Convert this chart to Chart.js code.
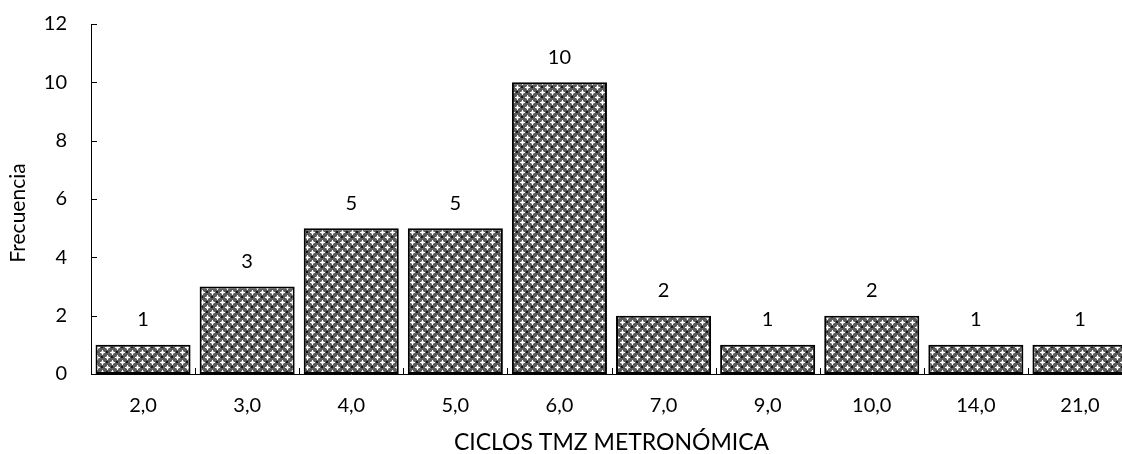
<!DOCTYPE html>
<html>
<head>
<meta charset="utf-8">
<title>Frecuencia por ciclos TMZ metronómica</title>
<script src="https://cdn.jsdelivr.net/npm/chart.js@4.4.1/dist/chart.umd.min.js"></script>
<style>
  html, body { margin: 0; padding: 0; background: #ffffff; overflow: hidden; }
  #wrap { width: 1135px; height: 454px; }
</style>
</head>
<body>
<div id="wrap"><canvas id="chart" width="1135" height="454"></canvas></div>
<script>
// Category labels (number of cycles) and their frequencies
const ciclos = ['2,0', '3,0', '4,0', '5,0', '6,0', '7,0', '9,0', '10,0', '14,0', '21,0'];
const frecuencias = [1, 3, 5, 5, 10, 2, 1, 2, 1, 1];
const yTicks = [0, 2, 4, 6, 8, 10, 12];
const yTitle = 'Frecuencia';

const FONT = 'Lato, "Open Sans", sans-serif';

// Hatched fill: grey ground with a diamond lattice of white crosses
function makePattern() {
  const n = 10;
  const c = document.createElement('canvas');
  c.width = n; c.height = n;
  const g = c.getContext('2d');
  g.fillStyle = '#5c5c5c';
  g.fillRect(0, 0, n, n);
  const centres = [[2, 2], [7, 7]];
  const darks = [[7, 2], [2, 7]];
  g.fillStyle = '#1a1a1a';
  darks.forEach(([cx, cy]) => g.fillRect(cx - 1, cy - 1, 2, 2));
  g.fillStyle = '#b4b4b4';
  centres.forEach(([cx, cy]) => g.fillRect(cx - 1, cy - 1, 3, 3));
  g.fillStyle = '#ffffff';
  centres.forEach(([cx, cy]) => {
    g.fillRect(cx - 2, cy, 5, 1);
    g.fillRect(cx, cy - 2, 1, 5);
  });
  return g.createPattern(c, 'repeat');
}

// Inward tick marks on both axes, value labels above each bar,
// and the vertical axis title centred on the whole figure height
const decorations = {
  id: 'decorations',
  afterDatasetsDraw(chart) {
    const { ctx, scales: { x, y } } = chart;
    ctx.save();
    ctx.strokeStyle = '#000000';
    ctx.lineWidth = 1;
    ctx.beginPath();
    y.ticks.forEach((t, i) => {
      const py = Math.round(y.getPixelForTick(i)) + 0.5;
      ctx.moveTo(x.left, py);
      ctx.lineTo(x.left + 6, py);
    });
    for (let i = 0; i <= ciclos.length; i++) {
      const px = Math.round(x.getPixelForValue(i - 0.5)) + 0.5;
      ctx.moveTo(px, y.bottom);
      ctx.lineTo(px, y.bottom - 6);
    }
    ctx.stroke();

    ctx.fillStyle = '#000000';
    ctx.font = '20px ' + FONT;
    ctx.textAlign = 'center';
    ctx.textBaseline = 'middle';
    const meta = chart.getDatasetMeta(0);
    meta.data.forEach((bar, i) => {
      ctx.fillText(String(frecuencias[i]), bar.x, bar.y - 25);
    });

    ctx.font = '21px ' + FONT;
    ctx.translate(18, chart.height / 2 - 14);
    ctx.rotate(-Math.PI / 2);
    ctx.fillText(yTitle, 0, 0);
    ctx.restore();
  }
};

new Chart(document.getElementById('chart'), {
  type: 'bar',
  data: {
    labels: ciclos,
    datasets: [{
      data: frecuencias,
      backgroundColor: makePattern(),
      borderColor: '#000000',
      borderWidth: 2,
      borderSkipped: false,
      barPercentage: 0.913,
      categoryPercentage: 1.0
    }]
  },
  options: {
    responsive: false,
    animation: false,
    devicePixelRatio: 1,
    layout: { padding: { top: 24, right: 3, left: 0, bottom: 0 } },
    plugins: {
      legend: { display: false },
      tooltip: { enabled: false }
    },
    scales: {
      x: {
        offset: true,
        grid: { display: false, drawTicks: false, offset: true },
        border: { display: true, color: '#000000', width: 1 },
        ticks: {
          color: '#000000',
          font: { family: FONT, size: 20 },
          padding: 20,
          maxRotation: 0,
          autoSkip: false
        },
        title: {
          display: true,
          text: 'CICLOS TMZ METRONÓMICA',
          color: '#000000',
          font: { family: FONT, size: 23, lineHeight: 1 },
          padding: 0
        },
        afterFit(scale) {
          scale.height = 80;
          scale.paddingLeft = 0;
          scale.paddingRight = 0;
        }
      },
      y: {
        min: 0,
        max: 12,
        afterBuildTicks(scale) { scale.ticks = yTicks.map(v => ({ value: v })); },
        grid: { display: false, drawTicks: false },
        border: { display: true, color: '#000000', width: 1 },
        ticks: {
          color: '#000000',
          font: { family: FONT, size: 20 },
          padding: 24
        },
        title: { display: false },
        afterFit(scale) {
          scale.width = 91;
          scale.paddingTop = 0;
          scale.paddingBottom = 0;
        }
      }
    }
  },
  plugins: [decorations]
});
</script>
</body>
</html>
